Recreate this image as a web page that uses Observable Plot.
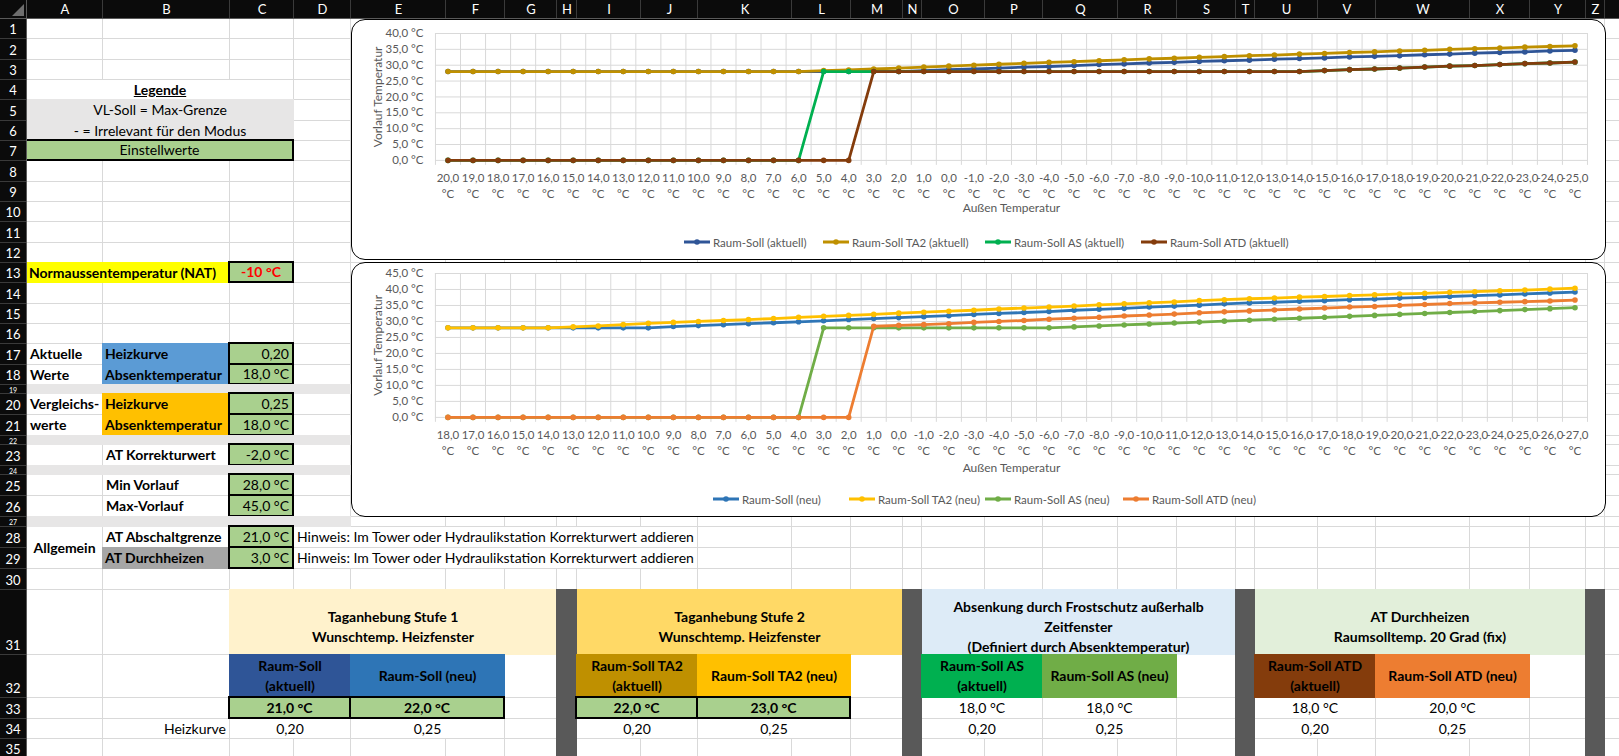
<!DOCTYPE html>
<html>
<head>
<meta charset="utf-8">
<script src="https://cdn.jsdelivr.net/npm/d3@7"></script>
<script src="https://cdn.jsdelivr.net/npm/@observablehq/plot@0.6"></script>
<style>
html,body{margin:0;padding:0;background:#fff;}
body{width:1619px;height:756px;overflow:hidden;position:relative;font-family:Lato,"Open Sans",sans-serif;}
#sheet{position:absolute;left:0;top:0;width:1619px;height:756px;overflow:hidden;}
.abs{position:absolute;box-sizing:border-box;}
.cell{position:absolute;box-sizing:border-box;display:flex;align-items:center;font-size:14px;color:#000;white-space:pre;line-height:20px;overflow:hidden;}
.hdr{position:absolute;box-sizing:border-box;color:#fff;font-size:13px;display:flex;align-items:center;justify-content:center;overflow:hidden;}
.chartbox{position:absolute;box-sizing:border-box;border:1px solid #000;border-radius:14px;background:#fff;overflow:hidden;}
.chartbox svg{position:absolute;left:0;top:0;}
.leg{position:absolute;font-size:11.5px;color:#595959;display:flex;align-items:center;white-space:nowrap;height:14px;}
</style>
</head>
<body>
<div id="sheet"></div>
<script>
// ---------- chart data ----------
const catsAktuell = ["20,0 °C","19,0 °C","18,0 °C","17,0 °C","16,0 °C","15,0 °C","14,0 °C","13,0 °C","12,0 °C","11,0 °C","10,0 °C","9,0 °C","8,0 °C","7,0 °C","6,0 °C","5,0 °C","4,0 °C","3,0 °C","2,0 °C","1,0 °C","0,0 °C","-1,0 °C","-2,0 °C","-3,0 °C","-4,0 °C","-5,0 °C","-6,0 °C","-7,0 °C","-8,0 °C","-9,0 °C","-10,0 °C","-11,0 °C","-12,0 °C","-13,0 °C","-14,0 °C","-15,0 °C","-16,0 °C","-17,0 °C","-18,0 °C","-19,0 °C","-20,0 °C","-21,0 °C","-22,0 °C","-23,0 °C","-24,0 °C","-25,0 °C"];
const raumSollAktuell = [28.0,28.0,28.0,28.0,28.0,28.0,28.0,28.0,28.0,28.0,28.0,28.0,28.0,28.0,28.0,28.0,28.0,28.0,28.0,28.3,28.6,28.8,29.1,29.4,29.6,29.9,30.2,30.4,30.7,30.9,31.2,31.4,31.6,31.9,32.1,32.3,32.6,32.8,33.0,33.3,33.5,33.8,34.0,34.2,34.5,34.7];
const raumSollTA2Aktuell = [28.0,28.0,28.0,28.0,28.0,28.0,28.0,28.0,28.0,28.0,28.0,28.0,28.0,28.0,28.0,28.3,28.5,28.8,29.1,29.4,29.7,30.0,30.3,30.6,30.9,31.1,31.4,31.7,32.0,32.2,32.5,32.7,33.0,33.2,33.5,33.7,34.0,34.2,34.5,34.7,35.0,35.2,35.4,35.7,35.9,36.1];
const raumSollASAktuell = [0,0,0,0,0,0,0,0,0,0,0,0,0,0,0,28.0,28.0,28.0,28.0,28.0,28.0,28.0,28.0,28.0,28.0,28.0,28.0,28.0,28.0,28.0,28.0,28.0,28.0,28.0,28.0,28.3,28.6,28.8,29.1,29.4,29.7,29.9,30.2,30.5,30.7,31.0];
const raumSollATDAktuell = [0,0,0,0,0,0,0,0,0,0,0,0,0,0,0,0,0,28.0,28.0,28.0,28.0,28.0,28.0,28.0,28.0,28.0,28.0,28.0,28.0,28.0,28.0,28.0,28.0,28.0,28.0,28.3,28.6,28.8,29.1,29.4,29.7,29.9,30.2,30.5,30.7,31.0];

const catsNeu = ["18,0 °C","17,0 °C","16,0 °C","15,0 °C","14,0 °C","13,0 °C","12,0 °C","11,0 °C","10,0 °C","9,0 °C","8,0 °C","7,0 °C","6,0 °C","5,0 °C","4,0 °C","3,0 °C","2,0 °C","1,0 °C","0,0 °C","-1,0 °C","-2,0 °C","-3,0 °C","-4,0 °C","-5,0 °C","-6,0 °C","-7,0 °C","-8,0 °C","-9,0 °C","-10,0 °C","-11,0 °C","-12,0 °C","-13,0 °C","-14,0 °C","-15,0 °C","-16,0 °C","-17,0 °C","-18,0 °C","-19,0 °C","-20,0 °C","-21,0 °C","-22,0 °C","-23,0 °C","-24,0 °C","-25,0 °C","-26,0 °C","-27,0 °C"];
const raumSollNeu = [28.0,28.0,28.0,28.0,28.0,28.0,28.0,28.0,28.0,28.4,28.7,29.0,29.3,29.6,29.9,30.2,30.6,30.9,31.2,31.5,31.8,32.2,32.5,32.8,33.1,33.5,33.8,34.1,34.5,34.8,35.1,35.5,35.8,36.0,36.3,36.5,36.8,37.0,37.3,37.5,37.8,38.1,38.3,38.6,38.9,39.2];
const raumSollTA2Neu = [28.0,28.0,28.0,28.0,28.0,28.3,28.6,29.0,29.4,29.7,30.0,30.3,30.6,30.9,31.3,31.6,31.9,32.2,32.6,32.9,33.2,33.5,33.9,34.2,34.5,34.8,35.2,35.5,35.8,36.1,36.5,36.8,37.1,37.3,37.6,37.8,38.1,38.3,38.6,38.8,39.1,39.3,39.6,39.8,40.1,40.4];
const raumSollASNeu = [0,0,0,0,0,0,0,0,0,0,0,0,0,0,0,28.0,28.0,28.0,28.0,28.0,28.0,28.0,28.0,28.0,28.0,28.3,28.6,28.9,29.2,29.5,29.8,30.1,30.4,30.7,31.0,31.3,31.6,31.9,32.2,32.5,32.8,33.1,33.4,33.7,34.0,34.3];
const raumSollATDNeu = [0,0,0,0,0,0,0,0,0,0,0,0,0,0,0,0,0,28.5,28.8,29.0,29.3,29.7,30.0,30.3,30.7,31.0,31.3,31.7,32.0,32.3,32.7,33.0,33.3,33.6,33.9,34.2,34.5,34.7,35.0,35.3,35.6,35.8,36.0,36.2,36.4,36.7];

const seriesAktuell = [
  {name:"Raum-Soll (aktuell)", color:"#2F5597", values:raumSollAktuell},
  {name:"Raum-Soll TA2 (aktuell)", color:"#BF9000", values:raumSollTA2Aktuell},
  {name:"Raum-Soll AS (aktuell)", color:"#00B050", values:raumSollASAktuell},
  {name:"Raum-Soll ATD (aktuell)", color:"#843C0C", values:raumSollATDAktuell}
];
const seriesNeu = [
  {name:"Raum-Soll (neu)", color:"#2E75B6", values:raumSollNeu},
  {name:"Raum-Soll TA2 (neu)", color:"#FFC000", values:raumSollTA2Neu},
  {name:"Raum-Soll AS (neu)", color:"#70AD47", values:raumSollASNeu},
  {name:"Raum-Soll ATD (neu)", color:"#ED7D31", values:raumSollATDNeu}
];

// ---------- sheet geometry ----------
const colNames = ["A","B","C","D","E","F","G","H","I","J","K","L","M","N","O","P","Q","R","S","T","U","V","W","X","Y","Z","AA"];
const colEdges = [26.7,103.3,230,294,351,446,505,557,577,641,698,792,851,903,922,985,1043,1118,1177,1236,1255,1318,1376,1470,1530,1586,1605,1690];
const rowHeights = [20.33,20.33,20.33,20.33,20.33,20.33,20.33,20.33,20.33,20.33,20.33,20.33,20.33,20.33,20.33,20.33,20.33,20.33,9,21,21,9,21,9,21,21,10,21,21,21,65,43,21,20,20];
const rowEdges = [19];
rowHeights.forEach(h => rowEdges.push(rowEdges[rowEdges.length-1] + h));

const sheet = document.getElementById("sheet");
function el(cls, style, text, parent){
  const d = document.createElement("div");
  d.className = cls;
  Object.assign(d.style, style);
  if (text != null) d.textContent = text;
  (parent || sheet).appendChild(d);
  return d;
}
const R = Math.round;

// gridlines
colEdges.forEach(x => el("abs", {left:(R(x)-1)+"px", top:"19px", width:"1px", height:"740px", background:"#d9d9d9"}));
rowEdges.forEach(y => el("abs", {left:"26px", top:(R(y)-1)+"px", width:"1600px", height:"1px", background:"#d9d9d9"}));

// cells
function parseRef(ref){
  const m = ref.match(/^([A-Z]+)(\d+)(?::([A-Z]+)(\d+))?$/);
  const c1 = colNames.indexOf(m[1]), r1 = +m[2];
  const c2 = m[3] ? colNames.indexOf(m[3]) : c1, r2 = m[4] ? +m[4] : r1;
  return {x1:colEdges[c1], x2:colEdges[c2+1], y1:rowEdges[r1-1], y2:rowEdges[r2]};
}
function cell(ref, text, o = {}){
  const g = parseRef(ref);
  let L, T, W, H;
  if (o.box){ L = R(g.x1)-2; T = R(g.y1)-2; W = R(g.x2)-L; H = R(g.y2)-T; }
  else if (o.bg && o.bg !== "#fff"){ L = R(g.x1)-1; T = R(g.y1)-1; W = R(g.x2)-L; H = R(g.y2)-T; }
  else { L = R(g.x1); T = R(g.y1); W = R(g.x2)-1-L; H = R(g.y2)-1-T; }
  const align = o.align || "c";
  const st = {left:L+"px", top:T+"px", width:W+"px", height:H+"px",
    justifyContent: align==="l" ? "flex-start" : align==="r" ? "flex-end" : "center",
    textAlign: align==="l" ? "left" : align==="r" ? "right" : "center",
    paddingLeft: align==="l" ? "3px" : "0", paddingRight: align==="r" ? "3px" : "0"};
  if (o.bg) st.background = o.bg;
  if (o.box) st.border = "2px solid #000";
  if (o.bold) st.fontWeight = "700";
  if (o.color) st.color = o.color;
  if (o.underline) st.textDecoration = "underline";
  if (o.overflow) st.overflow = "visible";
  if (o.padTop) st.paddingTop = o.padTop + "px";
  const d = el("cell", st);
  if (text) { const s = document.createElement("div"); s.textContent = text; d.appendChild(s); }
  return d;
}
const green = "#A9D08E", lgray = "#E7E6E6";
cell("A4:C4", "Legende", {bold:true, underline:true, bg:"#fff"});
cell("A5:C5", "VL-Soll = Max-Grenze", {bg:lgray});
cell("A6:C6", "- = Irrelevant für den Modus", {bg:lgray});
cell("A7:C7", "Einstellwerte", {bg:green, box:true});
cell("A13:B13", "Normaussentemperatur (NAT)", {bg:"#FFFF00", bold:true, align:"l"});
cell("C13", "-10 °C", {bg:green, box:true, color:"#FF0000", bold:true});
cell("A17", "Aktuelle", {bold:true, align:"l"});
cell("A18", "Werte", {bold:true, align:"l"});
cell("B17", "Heizkurve", {bg:"#5B9BD5", bold:true, align:"l"});
cell("B18", "Absenktemperatur", {bg:"#5B9BD5", bold:true, align:"l"});
cell("C17", "0,20", {bg:green, box:true, align:"r"});
cell("C18", "18,0 °C", {bg:green, box:true, align:"r"});
cell("A19:D19", "", {bg:lgray});
cell("A20", "Vergleichs-", {bold:true, align:"l", overflow:true});
cell("A21", "werte", {bold:true, align:"l"});
cell("B20", "Heizkurve", {bg:"#FFC000", bold:true, align:"l"});
cell("B21", "Absenktemperatur", {bg:"#FFC000", bold:true, align:"l"});
cell("C20", "0,25", {bg:green, box:true, align:"r"});
cell("C21", "18,0 °C", {bg:green, box:true, align:"r"});
cell("A22:D22", "", {bg:lgray});
cell("B23", "AT Korrekturwert", {bold:true, align:"l"});
cell("C23", "-2,0 °C", {bg:green, box:true, align:"r"});
cell("A24:D24", "", {bg:lgray});
cell("B25", "Min Vorlauf", {bold:true, align:"l"});
cell("C25", "28,0 °C", {bg:green, box:true, align:"r"});
cell("B26", "Max-Vorlauf", {bold:true, align:"l"});
cell("C26", "45,0 °C", {bg:green, box:true, align:"r"});
cell("A27:D27", "", {bg:lgray});
cell("A28:A29", "Allgemein", {bold:true, bg:"#fff"});
cell("B28", "AT Abschaltgrenze", {bold:true, align:"l"});
cell("B29", "AT Durchheizen", {bold:true, align:"l", bg:"#A6A6A6"});
cell("C28", "21,0 °C", {bg:green, box:true, align:"r"});
cell("C29", "3,0 °C", {bg:green, box:true, align:"r"});
cell("D28:J28", "Hinweis: Im Tower oder Hydraulikstation Korrekturwert addieren", {bg:"#fff", align:"l"});
cell("D29:J29", "Hinweis: Im Tower oder Hydraulikstation Korrekturwert addieren", {bg:"#fff", align:"l"});

cell("C31:G31", "Taganhebung Stufe 1\nWunschtemp. Heizfenster", {bg:"#FFF2CC", bold:true, padTop:10});
cell("I31:M31", "Taganhebung Stufe 2\nWunschtemp. Heizfenster", {bg:"#FFD966", bold:true, padTop:10});
cell("O31:S31", "Absenkung durch Frostschutz außerhalb\nZeitfenster\n(Definiert durch Absenktemperatur)", {bg:"#DDEBF7", bold:true, padTop:10});
cell("U31:Y31", "AT Durchheizen\nRaumsolltemp. 20 Grad (fix)", {bg:"#E2EFDA", bold:true, padTop:10});
["H","N","T","Z"].forEach(c => cell(c+"31:"+c+"35", "", {bg:"#595959"}));
cell("C32:D32", "Raum-Soll\n(aktuell)", {bg:"#2F5597", bold:true});
cell("E32:F32", "Raum-Soll (neu)", {bg:"#2E75B6", bold:true});
cell("I32:J32", "Raum-Soll TA2\n(aktuell)", {bg:"#BF9000", bold:true});
cell("K32:L32", "Raum-Soll TA2 (neu)", {bg:"#FFC000", bold:true});
cell("O32:P32", "Raum-Soll AS\n(aktuell)", {bg:"#00B050", bold:true});
cell("Q32:R32", "Raum-Soll AS (neu)", {bg:"#70AD47", bold:true});
cell("U32:V32", "Raum-Soll ATD\n(aktuell)", {bg:"#843C0C", bold:true});
cell("W32:X32", "Raum-Soll ATD (neu)", {bg:"#ED7D31", bold:true});
cell("C33:D33", "21,0 °C", {bg:green, box:true, bold:true});
cell("E33:F33", "22,0 °C", {bg:green, box:true, bold:true});
cell("I33:J33", "22,0 °C", {bg:green, box:true, bold:true});
cell("K33:L33", "23,0 °C", {bg:green, box:true, bold:true});
cell("O33:P33", "18,0 °C", {bg:"#fff"});
cell("Q33:R33", "18,0 °C", {bg:"#fff"});
cell("U33:V33", "18,0 °C", {bg:"#fff"});
cell("W33:X33", "20,0 °C", {bg:"#fff"});
cell("B34", "Heizkurve", {align:"r"});
[["C34:D34","0,20"],["E34:F34","0,25"],["I34:J34","0,20"],["K34:L34","0,25"],["O34:P34","0,20"],["Q34:R34","0,25"],["U34:V34","0,20"],["W34:X34","0,25"]]
  .forEach(([r,t]) => cell(r, t, {bg:"#fff"}));

// headers
el("abs", {left:"0px", top:"0px", width:"1619px", height:"19px", background:"#0b0b0b"});
el("abs", {left:"0px", top:"19px", width:"27px", height:"740px", background:"#0b0b0b"});
el("abs", {left:"0px", top:"18px", width:"1619px", height:"1px", background:"#5a5a5a"});
el("abs", {left:"26px", top:"0px", width:"1px", height:"756px", background:"#5a5a5a"});
el("abs", {left:"12px", top:"4px", width:"0", height:"0", borderLeft:"12px solid transparent", borderBottom:"12px solid #6e6e6e"});
colNames.forEach((c, i) => {
  const x1 = colEdges[i], x2 = colEdges[i+1];
  if (x2 <= 1619) el("hdr", {left:R(x1)+"px", top:"0px", width:(R(x2)-R(x1))+"px", height:"18px"}, c);
  el("abs", {left:(R(x2)-1)+"px", top:"0px", width:"1px", height:"18px", background:"#3a3a3a"});
});
rowHeights.forEach((h, i) => {
  const y1 = rowEdges[i], y2 = rowEdges[i+1];
  const small = h < 15;
  const d = el("hdr", {left:"0px", top:R(y1)+"px", width:"26px", height:(R(y2)-R(y1))+"px", alignItems: small ? "center" : "flex-end", fontSize: small ? "7px" : "13px"});
  const s = document.createElement("div"); s.textContent = String(i+1); s.style.lineHeight = small ? "8px" : "19px"; d.appendChild(s);
  el("abs", {left:"0px", top:(R(y2)-1)+"px", width:"26px", height:"1px", background:"#3a3a3a"});
});

// ---------- charts ----------
const fmtY = v => v.toFixed(1).replace(".", ",") + " °C";
function makeChart(cats, series, yMax, opt){
  const n = cats.length;
  const idx = d3.range(n);
  const edges = d3.range(n + 1).map(i => i - 0.5);
  const yt = d3.range(0, yMax + 0.001, 5);
  const gray = "#595959";
  const marks = [
    Plot.ruleY(yt, {y: d => d, stroke: "#d9d9d9", strokeWidth: 1}),
    Plot.ruleX(edges, {x: d => d, stroke: "#d9d9d9", strokeWidth: 1, insetBottom: -5}),
    Plot.text(yt, {y: d => d, frameAnchor: "left", dx: -12, textAnchor: "end", lineAnchor: "middle", text: fmtY, fill: gray, fontSize: 11.5}),
    Plot.text(idx, {x: d => d, frameAnchor: "bottom", dy: 10, textAnchor: "middle", lineAnchor: "top", lineHeight: 1.43,
      text: i => cats[i].replace(" ", "\n"), fill: gray, fontSize: 11.5}),
    Plot.text(["Vorlauf Temperatur"], {x: () => -0.5, y: () => yMax / 2, dx: -57, rotate: -90, textAnchor: "middle", lineAnchor: "middle",
      text: d => d, fill: gray, fontSize: 12}),
    Plot.text(["Außen Temperatur"], {frameAnchor: "bottom", dy: opt.titleDy, textAnchor: "middle", lineAnchor: "middle",
      text: d => d, fill: gray, fontSize: 12})
  ];
  series.forEach(s => {
    const data = s.values.map((v, i) => ({i, v}));
    marks.push(Plot.line(data, {x: "i", y: "v", stroke: s.color, strokeWidth: 2.8, strokeLinejoin: "round"}));
    marks.push(Plot.dot(data, {x: "i", y: "v", fill: s.color, r: 2.8}));
  });
  return Plot.plot({
    width: 1254, height: opt.height, marginTop: opt.mt, marginBottom: opt.mb, marginLeft: 83, marginRight: 18,
    x: {domain: [-0.5, n - 0.5], axis: null},
    y: {domain: [0, yMax], axis: null},
    style: {fontFamily: "Lato, 'Open Sans', sans-serif", background: "transparent", overflow: "visible"},
    marks
  });
}
function legend(box, series, lefts, yc){
  series.forEach((s, k) => {
    const d = el("leg", {left: lefts[k] + "px", top: (yc - 7) + "px"}, null, box);
    d.innerHTML = `<svg width="28" height="10" style="position:static;margin-right:2px"><line x1="1" y1="5" x2="27" y2="5" stroke="${s.color}" stroke-width="2.8"/><circle cx="14" cy="5" r="2.8" fill="${s.color}"/></svg>`;
    const t = document.createElement("span"); t.textContent = s.name; d.appendChild(t);
  });
}
const box1 = el("chartbox", {left: "351px", top: "19px", width: "1255px", height: "241px"});
box1.appendChild(makeChart(catsAktuell, seriesAktuell, 40, {height: 200, mt: 13, mb: 60, titleDy: 48}));
legend(box1, seriesAktuell, [331, 470, 632, 788], 222);

const box2 = el("chartbox", {left: "351px", top: "262px", width: "1255px", height: "255px"});
box2.appendChild(makeChart(catsNeu, seriesNeu, 45, {height: 215, mt: 10, mb: 61, titleDy: 51}));
legend(box2, seriesNeu, [360, 496, 632, 770], 236);
</script>
</body>
</html>
